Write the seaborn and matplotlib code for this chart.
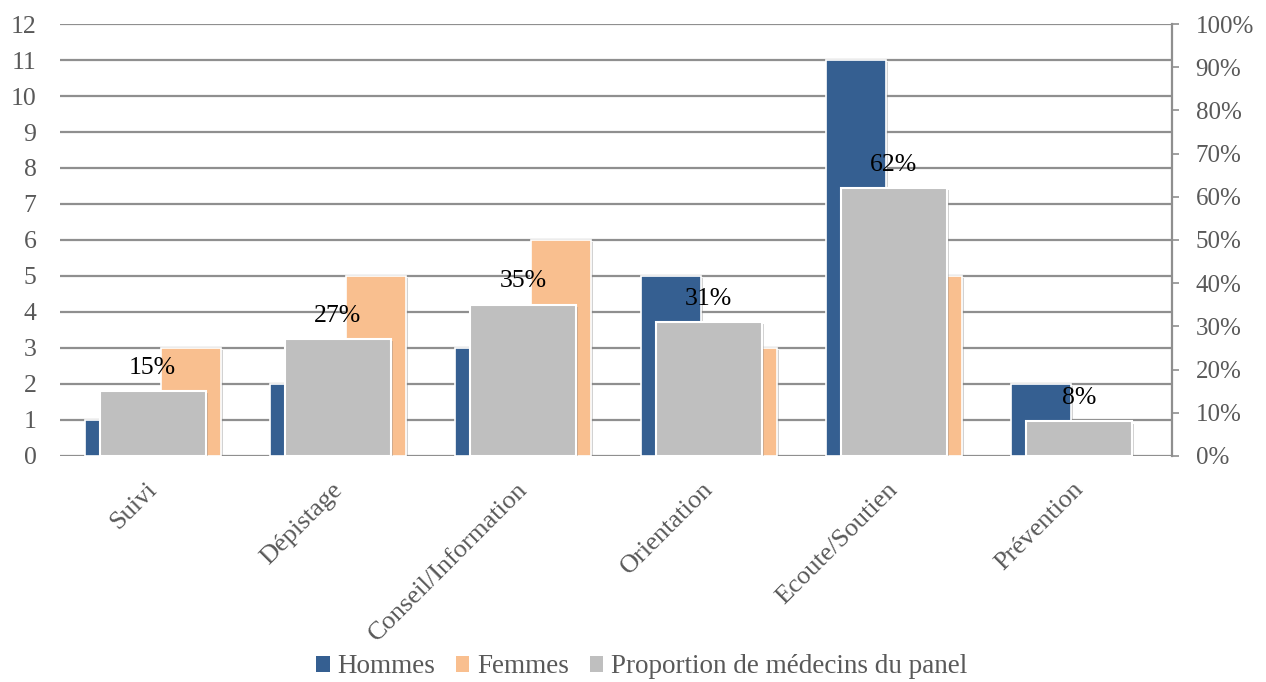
import matplotlib
matplotlib.use("Agg")
import matplotlib.pyplot as plt
import matplotlib.patheffects as pe
import matplotlib.transforms as mtransforms
from matplotlib.patches import Patch
from matplotlib.ticker import PercentFormatter, MultipleLocator
import seaborn as sns
import pandas as pd

categories = ["Suivi", "Dépistage", "Conseil/Information", "Orientation", "Ecoute/Soutien", "Prévention"]
hommes = [1, 2, 3, 5, 11, 2]
femmes = [3, 5, 6, 3, 5, 0]
proportion = [0.15, 0.27, 0.35, 0.31, 0.62, 0.08]
series_names = ["Hommes", "Femmes", "Proportion de médecins du panel"]
colors = ["#355F91", "#F9BF8F", "#BFBFBF"]

sns.set_theme(style="white")
plt.rcParams["font.family"] = ["Liberation Serif", "DejaVu Serif"]

df = pd.DataFrame({
    "cat": categories * 2,
    "val": hommes + femmes,
    "serie": [series_names[0]] * len(categories) + [series_names[1]] * len(categories),
})

fig = plt.figure(figsize=(12.66, 6.82), dpi=100)
ax = fig.add_axes([0.0474, 0.3314, 0.8783, 0.6334])
ax2 = ax.twinx()

grid_col = "#8F8F8F"
text_col = "#595959"
shadow = [pe.SimplePatchShadow(offset=(1.5, -1.5), shadow_rgbFace="#7F7F7F", alpha=0.35), pe.Normal()]

sns.barplot(data=df, x="cat", y="val", hue="serie", order=categories,
            hue_order=series_names[:2], palette=colors[:2], width=0.82, gap=0.21,
            saturation=1, ax=ax, legend=False, edgecolor="white", linewidth=1.2, zorder=3)
for p in ax.patches:
    if p.get_height() == 0:
        p.set_visible(False)
    p.set_path_effects(shadow)

sns.barplot(x=categories, y=proportion, order=categories, color=colors[2], width=0.573,
            saturation=1, ax=ax2, edgecolor="white", linewidth=1.5, zorder=3)
for p in ax2.patches:
    p.set_path_effects(shadow)

ax2.bar_label(ax2.containers[0], labels=[f"{round(v*100)}%" for v in proportion],
              padding=9, fontsize=18.5, color="black")

ax.set_ylim(0, 12)
ax.set_xlim(-0.5, 5.5)
ax.yaxis.set_major_locator(MultipleLocator(1))
ax.grid(axis="y", color=grid_col, linewidth=1.6)
ax.set_axisbelow(True)
ax2.set_ylim(0, 1)
ax2.yaxis.set_major_locator(MultipleLocator(0.1))
ax2.yaxis.set_major_formatter(PercentFormatter(1.0, decimals=0))
ax2.grid(False)

for s in ax.spines.values():
    s.set_visible(False)
for k, s in ax2.spines.items():
    s.set_visible(k == "right")
ax2.spines["right"].set_color(grid_col)
ax2.spines["right"].set_linewidth(1.6)

ax.set_xlabel("")
ax.set_ylabel("")
ax2.set_xlabel("")
ax2.set_ylabel("")

ax.tick_params(axis="y", length=0, pad=17, labelsize=18.5, labelcolor=text_col)
ax2.tick_params(axis="y", length=5, width=1.2, color=grid_col, pad=12, labelsize=18, labelcolor=text_col)
ax.tick_params(axis="x", length=0, pad=6)
ax.set_xticks(range(len(categories)))
ax.set_xticklabels(categories, rotation=45, ha="right", va="top", rotation_mode="anchor",
                   fontsize=19, color=text_col)
offset = mtransforms.ScaledTranslation(-7 / 100, -14 / 100, fig.dpi_scale_trans)
for lab in ax.get_xticklabels():
    lab.set_transform(lab.get_transform() + offset)

handles = [Patch(facecolor=c, edgecolor="none") for c in colors]
fig.legend(handles, series_names, loc="center", bbox_to_anchor=(0.507, 0.022), ncol=3,
           frameon=False, fontsize=19.5, labelcolor=text_col, handlelength=0.5, handleheight=0.5,
           handletextpad=0.3, columnspacing=0.75)

fig.savefig("out.png", dpi=100)
